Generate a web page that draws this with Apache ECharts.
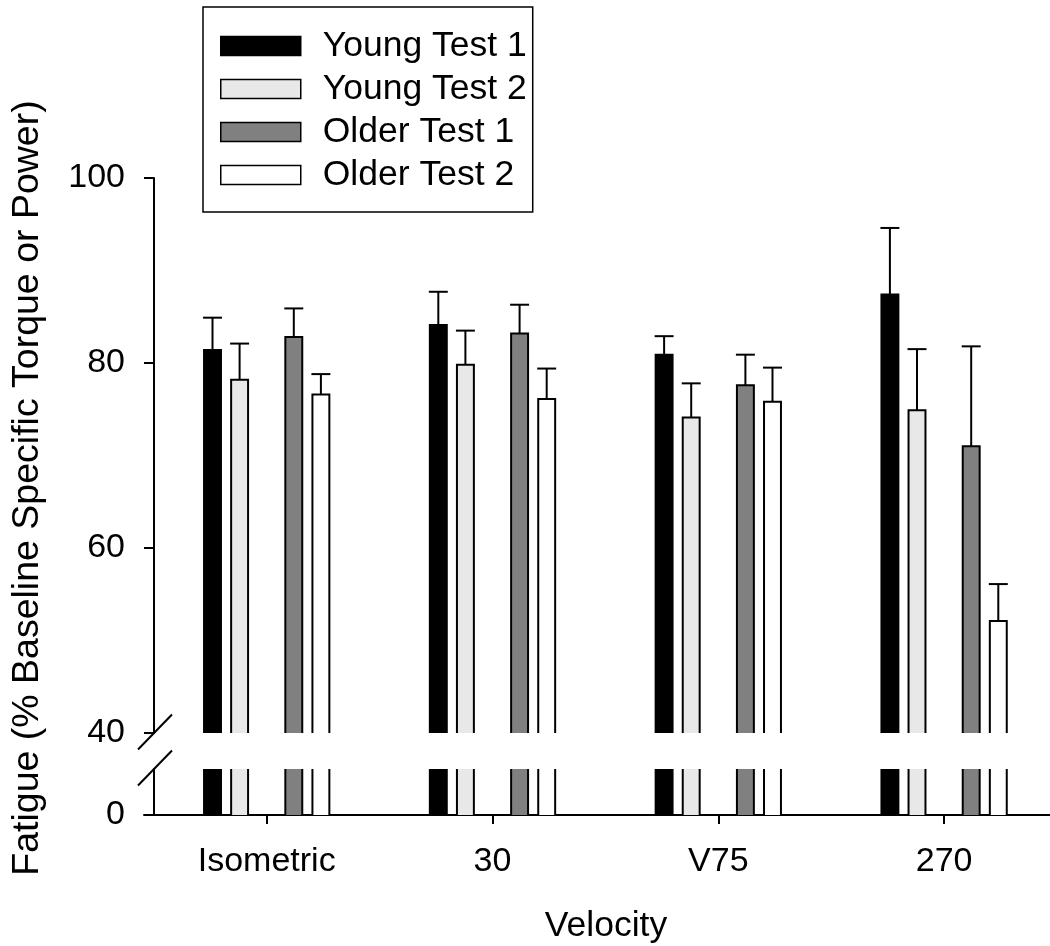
<!DOCTYPE html>
<html><head><meta charset="utf-8">
<script src="https://cdn.jsdelivr.net/npm/echarts@6/dist/echarts.min.js"></script>
<style>html,body{margin:0;padding:0;background:#fff}#c{width:1050px;height:946px}</style>
</head><body><div id="c"></div>
<script>
const categories = ['Isometric', '30', 'V75', '270'];
const seriesNames = ['Young Test 1', 'Young Test 2', 'Older Test 1', 'Older Test 2'];
const youngTest1 = [81.4, 84.1, 80.9, 87.4];
const youngTest1Err = [3.5, 3.6, 2.0, 7.2];
const youngTest2 = [78.2, 79.8, 74.1, 74.9];
const youngTest2Err = [3.9, 3.7, 3.7, 6.6];
const olderTest1 = [82.8, 83.2, 77.6, 71.0];
const olderTest1Err = [3.1, 3.1, 3.3, 10.8];
const olderTest2 = [76.6, 76.1, 75.8, 52.1];
const olderTest2Err = [2.2, 3.3, 3.7, 4.0];
const upperTicks = [40, 60, 80, 100];
const lowerTicks = [0];

const FONT = '"Liberation Sans", Arial, sans-serif';
const colors = ['#000000', '#e8e8e8', '#808080', '#ffffff'];
const slots = [-2, -1, 1, 2];
const SLOT = 0.12, BAR_W = 0.075, CAP_W = 0.084;
const UPPER_MIN = 40, UPPER_MAX = 100, LOWER_MIN = 0, LOWER_MAX = 10;
const X_MIN = 0.4566, X_MAX = 4.469;
const Y_OFFSET = -10;

const values = [youngTest1, youngTest2, olderTest1, olderTest2];
const errors = [youngTest1Err, youngTest2Err, olderTest1Err, olderTest2Err];

function makeData(vals, errs) { return vals.map((v, i) => [i + 1, v, errs[i]]); }

function upperRender(slot, color) {
  return function (params, api) {
    const x = api.value(0) + slot * SLOT;
    const v = api.value(1), e = api.value(2);
    const base = api.coord([x, UPPER_MIN]);
    const top = api.coord([x, v]);
    const errTop = api.coord([x, v + e]);
    const w = api.size([BAR_W, 0])[0];
    const cw = api.size([CAP_W, 0])[0];
    const l = top[0] - w / 2, r = top[0] + w / 2;
    return { type: 'group', children: [
      { type: 'line', shape: { x1: top[0], y1: top[1], x2: errTop[0], y2: errTop[1] }, style: { stroke: '#000', lineWidth: 2 } },
      { type: 'line', shape: { x1: errTop[0] - cw / 2, y1: errTop[1], x2: errTop[0] + cw / 2, y2: errTop[1] }, style: { stroke: '#000', lineWidth: 2 } },
      { type: 'rect', shape: { x: l, y: top[1], width: w, height: base[1] - top[1] }, style: { fill: color, stroke: null } },
      { type: 'polyline', shape: { points: [[l, base[1]], [l, top[1]], [r, top[1]], [r, base[1]]] }, style: { fill: null, stroke: '#000', lineWidth: 2 } }
    ]};
  };
}
function lowerRender(slot, color) {
  return function (params, api) {
    const x = api.value(0) + slot * SLOT;
    const v = Math.min(api.value(1), LOWER_MAX);
    const base = api.coord([x, LOWER_MIN]);
    const top = api.coord([x, v]);
    const w = api.size([BAR_W, 0])[0];
    const l = top[0] - w / 2, r = top[0] + w / 2;
    return { type: 'group', children: [
      { type: 'rect', shape: { x: l, y: top[1], width: w, height: base[1] - top[1] }, style: { fill: color, stroke: null } },
      { type: 'line', shape: { x1: l, y1: top[1], x2: l, y2: base[1] }, style: { stroke: '#000', lineWidth: 2 } },
      { type: 'line', shape: { x1: r, y1: top[1], x2: r, y2: base[1] }, style: { stroke: '#000', lineWidth: 2 } }
    ]};
  };
}

const series = [];
seriesNames.forEach((name, k) => {
  const data = makeData(values[k], errors[k]);
  series.push({ name, type: 'custom', xAxisIndex: 0, yAxisIndex: 0, data, renderItem: upperRender(slots[k], colors[k]),
    itemStyle: { color: colors[k], borderColor: '#000', borderWidth: 1.5 }, clip: true, silent: true });
  series.push({ name, type: 'custom', xAxisIndex: 1, yAxisIndex: 1, data, renderItem: lowerRender(slots[k], colors[k]),
    itemStyle: { color: colors[k], borderColor: '#000', borderWidth: 1.5 }, clip: true, silent: true });
});

const axisLine = { show: true, lineStyle: { color: '#000', width: 2 } };
const chart = echarts.init(document.getElementById('c'), null, { renderer: 'canvas' });
chart.setOption({
  animation: false,
  backgroundColor: '#fff',
  textStyle: { fontFamily: FONT },
  legend: {
    left: 203, top: 7, orient: 'vertical',
    padding: [21, 6, 19, 17],
    borderColor: '#000', borderWidth: 1.5,
    itemWidth: 80, itemHeight: 19, itemGap: 7,
    selectedMode: false,
    textStyle: { fontFamily: FONT, fontSize: 35.5, color: '#000', lineHeight: 36, padding: [0, 0, 0, 17] },
    data: seriesNames.map((n, k) => ({ name: n, icon: 'rect', itemStyle: { color: colors[k], borderColor: '#000', borderWidth: 1.5 } }))
  },
  grid: [
    { left: 144, right: 0, top: 178, bottom: 946 - 733 },
    { left: 144, right: 0, top: 769, bottom: 946 - 815 }
  ],
  xAxis: [
    { type: 'value', gridIndex: 0, min: X_MIN, max: X_MAX, show: false, splitLine: { show: false } },
    { type: 'value', gridIndex: 1, min: X_MIN, max: X_MAX, position: 'bottom',
      axisLine: Object.assign({ onZero: false }, axisLine),
      axisTick: { show: true, length: 9, lineStyle: { color: '#000', width: 2 }, customValues: [1, 2, 3, 4] },
      axisLabel: { customValues: [1, 2, 3, 4], formatter: v => categories[Math.round(v) - 1], fontFamily: FONT, fontSize: 34, color: '#000', margin: 30 },
      splitLine: { show: false },
      name: 'Velocity', nameLocation: 'middle', nameGap: 93,
      nameTextStyle: { fontFamily: FONT, fontSize: 35.5, color: '#000', padding: [0, 0, 0, 18] }
    }
  ],
  yAxis: [
    { type: 'value', gridIndex: 0, min: UPPER_MIN, max: UPPER_MAX, interval: 20, offset: Y_OFFSET,
      axisLine, axisTick: { show: true, length: 10, lineStyle: { color: '#000', width: 2 }, customValues: upperTicks },
      axisLabel: { customValues: upperTicks, fontFamily: FONT, fontSize: 34, color: '#000', margin: 29 },
      splitLine: { show: false } },
    { type: 'value', gridIndex: 1, min: LOWER_MIN, max: LOWER_MAX, interval: 10, offset: Y_OFFSET,
      axisLine, axisTick: { show: false },
      axisLabel: { customValues: lowerTicks, fontFamily: FONT, fontSize: 34, color: '#000', margin: 29 },
      splitLine: { show: false } }
  ],
  series
});

// axis break marks and rotated y title
const pUp = chart.convertToPixel({ xAxisIndex: 0, yAxisIndex: 0 }, [X_MIN, UPPER_MIN]);
const pLo = chart.convertToPixel({ xAxisIndex: 1, yAxisIndex: 1 }, [X_MIN, LOWER_MAX]);
const ax = pUp[0] - Y_OFFSET;
function slash(cx, cy) {
  return { type: 'line', shape: { x1: cx - 16, y1: cy + 16.5, x2: cx + 18, y2: cy - 18.5 }, style: { stroke: '#000', lineWidth: 2 }, z: 100 };
}
chart.setOption({
  graphic: [
    slash(ax, pUp[1]),
    slash(ax, pLo[1]),
    { type: 'text', x: 28, y: 488, rotation: Math.PI / 2,
      style: { text: 'Fatigue (% Baseline Specific Torque or Power)', fontFamily: FONT, fontSize: 37.5, fill: '#000', align: 'center', verticalAlign: 'middle' } }
  ]
});
</script></body></html>
